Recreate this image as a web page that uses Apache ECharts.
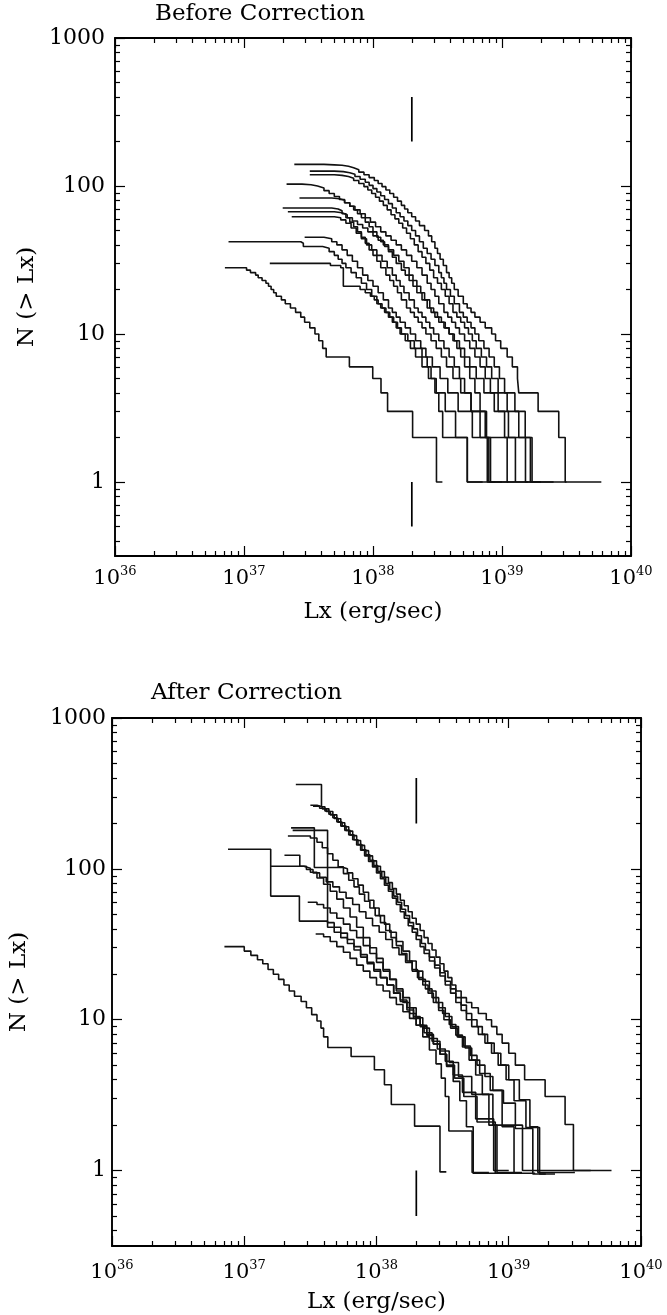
<!DOCTYPE html>
<html><head><meta charset="utf-8">
<script src="https://cdn.jsdelivr.net/npm/echarts@6/dist/echarts.min.js"></script>
<style>html,body{margin:0;padding:0;background:#fff}#c{width:667px;height:1315px}</style>
</head><body><div id="c"></div>
<script>
// ---- axis values ----
const xMajorExp = [36, 37, 38, 39, 40];
const yMajor = [1, 10, 100, 1000];
const yMinExp = -0.5;
const panelTitles = ['Before Correction', 'After Correction'];
const xName = 'Lx (erg/sec)';
const yName = 'N (> Lx)';
// vertical marker at Lx = 2e38
const markerLx = 2e38;
const markerUpper = [200, 400];
const markerLower = [0.5, 1];

// ---- Before correction: [log10 Lx, N(>Lx)] ----
const beforeA = [[37.39,140],[37.62,139],[37.70,138],[37.76,136],[37.81,133],[37.85,129],[37.89,124],[37.93,119],[37.97,114],[38.01,109],[38.04,104],[38.07,99],[38.10,94],[38.13,89],[38.16,84],[38.19,79],[38.22,74],[38.245,70],[38.27,66],[38.30,62],[38.33,58],[38.36,54],[38.40,50],[38.43,46],[38.455,42],[38.48,38],[38.50,35],[38.52,32],[38.545,29],[38.57,26],[38.59,24],[38.61,22],[38.63,20],[38.66,18],[38.70,16],[38.73,15],[38.76,14],[38.79,13],[38.83,12],[38.87,11],[38.92,10],[38.95,9],[38.99,8],[39.04,7],[39.08,6],[39.12,5],[39.13,4],[39.28,3],[39.44,2],[39.49,1],[39.77,1]];
const beforeB = [[37.51,126],[37.70,125],[37.77,123],[37.82,120],[37.86,116],[37.90,111],[37.94,106],[37.97,101],[38.00,96],[38.03,91],[38.06,86],[38.09,81],[38.12,76],[38.15,71],[38.18,66],[38.21,62],[38.24,58],[38.27,54],[38.30,50],[38.33,46],[38.36,42],[38.39,38],[38.42,35],[38.45,32],[38.48,29],[38.51,26],[38.53,24],[38.55,22],[38.57,20],[38.60,18],[38.63,16],[38.67,14],[38.70,13],[38.73,12],[38.76,11],[38.79,10],[38.82,9],[38.86,8],[38.90,7],[38.94,6],[38.98,5],[39.02,4],[39.10,3],[39.18,2],[39.22,1],[39.50,1]];
const beforeC = [[37.51,119],[37.70,118],[37.76,116],[37.81,113],[37.85,109],[37.89,104],[37.93,99],[37.96,94],[37.99,89],[38.02,84],[38.05,79],[38.08,74],[38.11,69],[38.14,64],[38.17,60],[38.20,56],[38.23,52],[38.26,48],[38.29,44],[38.32,40],[38.35,36],[38.38,33],[38.41,30],[38.44,27],[38.47,24],[38.50,22],[38.53,20],[38.56,18],[38.59,16],[38.62,14],[38.65,13],[38.68,12],[38.71,11],[38.74,10],[38.77,9],[38.80,8],[38.84,7],[38.88,6],[38.92,5],[38.97,4],[39.04,3],[39.13,2],[39.233,1],[39.30,1]];
const beforeD = [[37.33,103],[37.45,102],[37.52,100],[37.57,97],[37.62,93],[37.66,89],[37.70,85],[37.74,81],[37.78,77],[37.82,73],[37.86,69],[37.90,65],[37.94,61],[37.98,57],[38.02,53],[38.06,49],[38.10,46],[38.14,43],[38.18,40],[38.22,37],[38.26,34],[38.30,31],[38.34,28],[38.38,25],[38.42,22],[38.45,20],[38.48,18],[38.51,16],[38.55,14],[38.58,13],[38.61,12],[38.64,11],[38.67,10],[38.71,9],[38.75,8],[38.79,7],[38.83,6],[38.87,5],[38.91,4],[38.97,3],[39.05,2],[39.182,1],[39.30,1]];
const beforeE = [[37.43,83],[37.68,82],[37.74,80],[37.78,77],[37.82,73],[37.85,69],[37.88,65],[37.91,61],[37.94,57],[37.97,53],[38.00,49],[38.03,45],[38.06,42],[38.09,39],[38.12,36],[38.15,33],[38.18,30],[38.22,27],[38.25,25],[38.28,23],[38.31,21],[38.34,19],[38.38,17],[38.42,15],[38.45,14],[38.48,13],[38.51,12],[38.55,11],[38.59,10],[38.63,9],[38.67,8],[38.71,7],[38.75,6],[38.80,5],[38.86,4],[38.94,3],[39.02,2],[39.104,1],[39.40,1]];
const beforeF = [[37.30,71],[37.68,70],[37.73,68],[37.76,65],[37.79,61],[37.82,57],[37.85,53],[37.88,49],[37.91,45],[37.94,41],[37.97,37],[38.00,34],[38.03,31],[38.06,28],[38.10,25],[38.13,23],[38.16,21],[38.19,19],[38.22,17],[38.26,15],[38.29,14],[38.32,13],[38.35,12],[38.38,11],[38.41,10],[38.45,9],[38.49,8],[38.53,7],[38.57,6],[38.62,5],[38.68,4],[38.76,3],[38.88,2],[39.04,1],[39.20,1]];
const beforeG = [[37.34,67],[37.70,66],[37.76,64],[37.80,61],[37.84,58],[37.88,55],[37.92,52],[37.96,49],[38.00,46],[38.04,43],[38.08,40],[38.12,37],[38.16,34],[38.20,31],[38.24,28],[38.28,25],[38.31,23],[38.34,21],[38.37,19],[38.40,17],[38.44,15],[38.47,14],[38.50,13],[38.53,12],[38.56,11],[38.59,10],[38.62,9],[38.65,8],[38.68,7],[38.71,6],[38.75,5],[38.79,4],[38.83,3],[38.87,2],[38.911,1],[39.10,1]];
const beforeH = [[37.37,62],[37.70,61],[37.75,59],[37.79,56],[37.83,52],[37.87,48],[37.91,44],[37.95,40],[37.99,37],[38.03,34],[38.07,31],[38.11,28],[38.15,25],[38.18,23],[38.21,21],[38.24,19],[38.28,17],[38.32,15],[38.35,14],[38.38,13],[38.41,12],[38.44,11],[38.47,10],[38.51,9],[38.55,8],[38.59,7],[38.63,6],[38.67,5],[38.71,4],[38.76,3],[38.83,2],[38.898,1],[39.05,1]];
const beforeI = [[37.47,45],[37.62,44],[37.68,42],[37.72,40],[37.76,37],[37.80,34],[37.84,31],[37.88,28],[37.92,25],[37.96,23],[38.00,21],[38.04,19],[38.08,17],[38.12,15],[38.15,14],[38.18,13],[38.21,12],[38.25,11],[38.29,10],[38.33,9],[38.37,8],[38.41,7],[38.46,6],[38.52,5],[38.58,4],[38.66,3],[38.77,2],[38.886,1],[39.00,1]];
const beforeJ = [[36.88,42],[37.44,41],[37.46,39],[37.61,38],[37.66,36],[37.70,34],[37.73,32],[37.76,30],[37.79,28],[37.83,26],[37.87,24],[37.91,22],[37.95,20],[37.99,18],[38.03,16],[38.06,15],[38.09,14],[38.12,13],[38.15,12],[38.18,11],[38.21,10],[38.25,9],[38.29,8],[38.33,7],[38.38,6],[38.43,5],[38.49,4],[38.56,3],[38.64,2],[38.731,1],[38.95,1]];
const beforeK = [[37.20,30],[37.67,29],[37.75,28],[37.77,21],[37.90,20],[37.94,19],[37.98,18],[38.01,17],[38.04,16],[38.07,15],[38.10,14],[38.13,13],[38.16,12],[38.19,11],[38.22,10],[38.27,9],[38.32,8],[38.38,7],[38.42,6],[38.45,5],[38.48,4],[38.51,3],[38.54,2],[38.731,1],[38.85,1]];
const beforeL = [[36.852,28],[37.02,27],[37.05,26],[37.09,25],[37.11,24],[37.14,23],[37.17,22],[37.19,21],[37.21,20],[37.23,19],[37.25,18],[37.29,17],[37.32,16],[37.36,15],[37.40,14],[37.44,13],[37.47,12],[37.51,11],[37.55,10],[37.58,9],[37.61,8],[37.637,7],[37.817,6],[37.998,5],[38.062,4],[38.113,3],[38.307,2],[38.492,1],[38.538,1]];

// ---- After correction: [log10 Lx, N(>Lx)] ----
const afterA1 = [[37.39,362],[37.584,258],[37.61,250],[37.64,240],[37.67,228],[37.70,215],[37.73,202],[37.76,190],[37.79,178],[37.82,166],[37.85,154],[37.88,143],[37.91,132],[37.94,122],[37.97,113],[38.00,104],[38.03,96],[38.06,88],[38.09,81],[38.12,74],[38.15,68],[38.18,62],[38.21,57],[38.24,52],[38.27,47],[38.30,43],[38.33,39],[38.36,35],[38.39,32],[38.42,29],[38.45,26],[38.48,23.5],[38.51,21],[38.54,19],[38.57,17],[38.60,15.5],[38.64,14],[38.68,13],[38.72,12],[38.77,11],[38.83,10],[38.87,9],[38.91,8],[38.95,7],[39.00,6],[39.05,5],[39.12,4],[39.275,3.1],[39.426,2.02],[39.489,1.0],[39.777,1.0]];
const afterA2 = [[37.50,264],[37.55,258],[37.59,250],[37.62,240],[37.65,228],[37.68,216],[37.71,204],[37.74,192],[37.77,180],[37.80,168],[37.83,156],[37.86,145],[37.89,134],[37.92,124],[37.95,114],[37.98,105],[38.01,96],[38.04,88],[38.07,80],[38.10,73],[38.13,66],[38.16,60],[38.19,54],[38.22,49],[38.25,44],[38.28,40],[38.31,36],[38.34,32],[38.37,29],[38.40,26],[38.44,23],[38.48,20.5],[38.52,18],[38.56,16],[38.60,14],[38.64,12.5],[38.68,11],[38.72,10],[38.76,9],[38.80,8],[38.84,7],[38.89,6],[38.94,5],[39.00,4],[39.08,2.95],[39.16,1.95],[39.22,0.97],[39.50,0.97]];
const afterA3 = [[37.52,260],[37.57,252],[37.61,242],[37.64,230],[37.67,218],[37.70,205],[37.73,192],[37.76,180],[37.79,168],[37.82,156],[37.85,144],[37.88,133],[37.91,122],[37.94,112],[37.97,103],[38.00,94],[38.03,86],[38.06,78],[38.09,71],[38.12,64],[38.15,58],[38.18,52],[38.21,47],[38.24,42],[38.27,38],[38.30,34],[38.33,30.5],[38.36,27.5],[38.40,24.5],[38.44,22],[38.48,19.5],[38.52,17],[38.56,15],[38.60,13],[38.64,11.5],[38.68,10],[38.72,9],[38.77,8],[38.82,7],[38.87,6],[38.92,5],[38.98,4],[39.04,2.9],[39.13,1.93],[39.233,0.95],[39.35,0.95]];
const afterB1 = [[37.354,187],[37.53,102],[37.75,100],[37.78,94],[37.82,86],[37.86,78],[37.90,70],[37.94,62],[37.98,55],[38.02,49],[38.06,43],[38.10,38],[38.15,33],[38.20,28.5],[38.25,24.5],[38.30,21],[38.35,18],[38.40,15.5],[38.45,13],[38.50,11],[38.55,9.3],[38.60,7.9],[38.65,6.6],[38.70,5.4],[38.75,4.3],[38.80,3.2],[38.85,2.0],[38.911,0.97],[39.10,0.97]];
const afterB2 = [[37.366,180],[37.63,44],[37.68,41],[37.73,37.5],[37.78,34],[37.83,30.5],[37.88,27],[37.93,24],[37.98,21.5],[38.03,19],[38.08,17],[38.13,15],[38.18,13.2],[38.23,11.6],[38.28,10.2],[38.33,9],[38.38,7.9],[38.43,6.9],[38.48,5.9],[38.53,5],[38.59,4.1],[38.66,3.1],[38.76,2.1],[38.898,0.96],[39.05,0.96]];
const afterB3 = [[37.33,165],[37.50,160],[37.55,150],[37.59,138],[37.63,126],[37.67,114],[37.71,103],[37.75,93],[37.79,84],[37.83,76],[37.87,68],[37.91,61],[37.95,55],[37.99,49],[38.03,44],[38.07,39],[38.11,35],[38.15,31],[38.19,27.5],[38.23,24.5],[38.27,21.5],[38.31,19],[38.35,17],[38.39,15],[38.43,13],[38.47,11.5],[38.51,10],[38.56,8.8],[38.61,7.7],[38.66,6.7],[38.71,5.8],[38.76,5],[38.82,4.2],[38.88,3.4],[38.96,2.8],[39.05,1.9],[39.182,0.95],[39.28,0.95]];
const afterB4 = [[37.304,123],[37.42,104],[37.47,99],[37.52,94],[37.57,88],[37.62,82],[37.67,76],[37.72,70],[37.77,64],[37.82,58],[37.87,52],[37.92,47],[37.97,42],[38.02,38],[38.07,34],[38.12,30],[38.17,27],[38.22,24],[38.27,21],[38.32,18.5],[38.37,16],[38.42,14],[38.47,12],[38.52,10.5],[38.57,9],[38.62,7.7],[38.67,6.5],[38.72,5.4],[38.78,4.4],[38.86,3.4],[38.95,1.95],[39.04,0.96],[39.20,0.96]];
const afterP = [[36.877,135],[37.20,66],[37.417,45],[37.63,41],[37.68,38],[37.73,35],[37.78,32],[37.83,29],[37.88,26],[37.93,23.5],[37.98,21],[38.03,19],[38.08,17],[38.13,15],[38.18,13.5],[38.23,12],[38.28,10.5],[38.33,9.2],[38.38,8],[38.43,6.9],[38.48,5.9],[38.53,4.9],[38.58,3.9],[38.63,2.9],[38.68,1.95],[38.731,0.96],[38.95,0.96]];
const afterQ = [[37.197,104],[37.45,101],[37.50,95],[37.55,87],[37.60,79],[37.65,71],[37.70,63],[37.75,55],[37.80,48],[37.85,41],[37.90,35],[37.95,30],[38.00,25.5],[38.05,21.5],[38.10,18.5],[38.15,15.5],[38.20,13],[38.25,11],[38.30,9.2],[38.35,7.7],[38.40,6.3],[38.45,5.1],[38.49,4.1],[38.52,3.1],[38.547,1.83],[38.723,0.97],[38.85,0.97]];
const afterC1 = [[37.48,60],[37.55,58],[37.60,55],[37.65,51],[37.70,47],[37.75,43],[37.80,39],[37.85,35],[37.90,31],[37.95,27.5],[38.00,24],[38.05,21],[38.10,18.5],[38.15,16],[38.20,14],[38.25,12],[38.30,10.3],[38.35,8.8],[38.40,7.5],[38.46,6.4],[38.52,5.3],[38.58,4.3],[38.65,3.3],[38.75,2.2],[38.886,1.0],[39.00,1.0]];
const afterC2 = [[37.54,37],[37.60,35.5],[37.65,33],[37.70,30.5],[37.75,28],[37.80,25.5],[37.85,23],[37.90,21],[37.95,19],[38.00,17],[38.05,15.5],[38.10,14],[38.15,12.6],[38.20,11.3],[38.25,10.2],[38.30,9.2],[38.36,8.2],[38.42,7.2],[38.48,6.2],[38.55,5.2],[38.62,4.2],[38.72,3.2],[38.88,2.0],[39.104,1.0],[39.62,1.0]];
const afterL = [[36.85,30.5],[37.00,28.5],[37.05,26.7],[37.10,25],[37.14,23.5],[37.18,21.5],[37.22,20],[37.26,18.5],[37.30,17],[37.34,15.5],[37.38,14.3],[37.43,13.2],[37.47,12],[37.51,10.8],[37.55,9.8],[37.58,8.8],[37.60,7.7],[37.632,6.55],[37.808,5.71],[37.984,4.66],[38.06,3.71],[38.112,2.74],[38.288,1.97],[38.48,0.98],[38.528,0.98]];

const beforeCurves = [beforeA, beforeB, beforeC, beforeD, beforeE, beforeF, beforeG, beforeH, beforeI, beforeJ, beforeK, beforeL];
const afterCurves = [afterA1, afterA2, afterA3, afterB1, afterB2, afterB3, afterB4, afterP, afterQ, afterC1, afterC2, afterL];

// ---- build ----
const FONT = 'DejaVu Serif';
const xMajor = xMajorExp.map(e => Math.pow(10, e));
const xMinor = [];
for (let e = 36; e < 40; e++) for (let m = 2; m <= 9; m++) xMinor.push(m * Math.pow(10, e));
const yMinor = [];
for (let e = -1; e < 3; e++) for (let m = 2; m <= 9; m++) { const v = m * Math.pow(10, e); if (v > Math.pow(10, yMinExp)) yMinor.push(v); }

const grids = [
  {left: 115, top: 38, width: 516, height: 518},
  {left: 110, top: 718, width: 531, height: 530}
];
const lineBlack = {color: '#000', width: 1.9};
const tickStyle = {color: '#000', width: 1.2};

const xAxes = [], yAxes = [];
grids.forEach((g, gi) => {
  const baseX = {type: 'log', logBase: 10, min: xMajor[0], max: xMajor[xMajor.length - 1], gridIndex: gi, splitLine: {show: false}, minorTick: {show: false}, axisLine: {onZero: false, show: false, lineStyle: lineBlack}};
  xAxes.push(Object.assign({}, baseX, {
    position: 'bottom',
    axisLine: {show: true, onZero: false, lineStyle: lineBlack},
    axisTick: {show: true, inside: true, length: 10, customValues: xMajor, lineStyle: tickStyle},
    axisLabel: {show: true, customValues: xMajor, margin: gi === 0 ? 9 : 13,
      formatter: v => '{b|10}{s|' + Math.round(Math.log10(v)) + '}',
      rich: {b: {fontFamily: FONT, fontSize: 21, color: '#000', lineHeight: 24, verticalAlign: 'bottom'},
             s: {fontFamily: FONT, fontSize: 13, color: '#000', lineHeight: 24, verticalAlign: 'top'}}},
    name: xName, nameLocation: 'middle', nameGap: 45,
    nameTextStyle: {fontFamily: FONT, fontSize: 23, color: '#000'}
  }));
  xAxes.push(Object.assign({}, baseX, {position: 'bottom',
    axisTick: {show: true, inside: true, length: 5, customValues: xMinor, lineStyle: tickStyle}, axisLabel: {show: false}}));
  xAxes.push(Object.assign({}, baseX, {position: 'top',
    axisLine: {show: true, onZero: false, lineStyle: lineBlack},
    axisTick: {show: true, inside: true, length: 10, customValues: xMajor, lineStyle: tickStyle}, axisLabel: {show: false}}));
  xAxes.push(Object.assign({}, baseX, {position: 'top',
    axisTick: {show: true, inside: true, length: 5, customValues: xMinor, lineStyle: tickStyle}, axisLabel: {show: false}}));

  const baseY = {type: 'log', logBase: 10, min: Math.pow(10, yMinExp), max: yMajor[yMajor.length - 1], gridIndex: gi, splitLine: {show: false}, minorTick: {show: false}, axisLine: {onZero: false, show: false, lineStyle: lineBlack}};
  yAxes.push(Object.assign({}, baseY, {position: 'left',
    axisLine: {show: true, onZero: false, lineStyle: lineBlack},
    axisTick: {show: true, inside: true, length: 10, customValues: yMajor, lineStyle: tickStyle},
    axisLabel: {show: true, customValues: yMajor, margin: gi === 0 ? 10 : 6, formatter: v => String(Math.round(v)),
      fontFamily: FONT, fontSize: 22, color: '#000'},
    name: yName, nameLocation: 'middle', nameGap: gi === 0 ? 76 : 81, nameRotate: 90,
    nameTextStyle: {fontFamily: FONT, fontSize: 23, color: '#000'}
  }));
  yAxes.push(Object.assign({}, baseY, {position: 'left',
    axisTick: {show: true, inside: true, length: 5, customValues: yMinor, lineStyle: tickStyle}, axisLabel: {show: false}}));
  yAxes.push(Object.assign({}, baseY, {position: 'right',
    axisLine: {show: true, onZero: false, lineStyle: lineBlack},
    axisTick: {show: true, inside: true, length: 10, customValues: yMajor, lineStyle: tickStyle}, axisLabel: {show: false}}));
  yAxes.push(Object.assign({}, baseY, {position: 'right',
    axisTick: {show: true, inside: true, length: 5, customValues: yMinor, lineStyle: tickStyle}, axisLabel: {show: false}}));
});

const series = [];
[beforeCurves, afterCurves].forEach((curves, gi) => {
  curves.forEach(c => {
    series.push({type: 'line', step: 'end', symbol: 'none', silent: true, animation: false,
      xAxisIndex: gi * 4, yAxisIndex: gi * 4,
      lineStyle: {color: '#111', width: 1.6},
      data: c.map(p => [Math.pow(10, p[0]), p[1]])});
  });
  [markerUpper, markerLower].forEach(m => {
    series.push({type: 'line', symbol: 'none', silent: true, animation: false,
      xAxisIndex: gi * 4, yAxisIndex: gi * 4,
      lineStyle: {color: '#000', width: 1.7},
      data: m.map(n => [markerLx, n])});
  });
});

const chart = echarts.init(document.getElementById('c'), null, {renderer: 'canvas'});
chart.setOption({
  animation: false,
  backgroundColor: '#fff',
  title: [
    {text: panelTitles[0], left: 155, top: 3, padding: 0, textStyle: {fontFamily: FONT, fontSize: 23, fontWeight: 'normal', color: '#000'}},
    {text: panelTitles[1], left: 151, top: 682, padding: 0, textStyle: {fontFamily: FONT, fontSize: 23, fontWeight: 'normal', color: '#000'}}
  ],
  grid: grids,
  xAxis: xAxes,
  yAxis: yAxes,
  series: series
});
</script>
</body></html>
